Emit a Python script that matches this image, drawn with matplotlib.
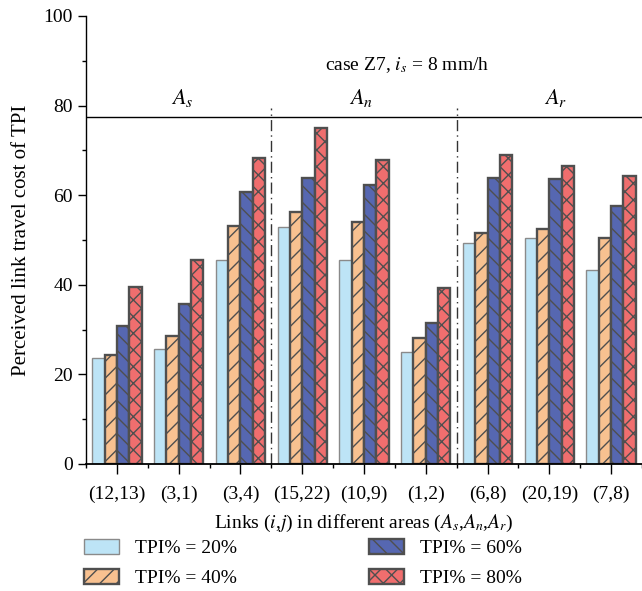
import matplotlib.pyplot as plt
import numpy as np
from matplotlib.ticker import MultipleLocator

# --- Data ---
links = ['(12,13)', '(3,1)', '(3,4)', '(15,22)', '(10,9)', '(1,2)', '(6,8)', '(20,19)', '(7,8)']
tpi_20 = [23.6, 25.6, 45.5, 52.9, 45.5, 25.0, 49.3, 50.5, 43.2]
tpi_40 = [24.3, 28.6, 53.1, 56.2, 54.0, 28.1, 51.6, 52.4, 50.4]
tpi_60 = [30.7, 35.6, 60.7, 63.8, 62.3, 31.5, 63.9, 63.6, 57.5]
tpi_80 = [39.4, 45.5, 68.3, 75.0, 67.9, 39.3, 69.0, 66.4, 64.3]
series_labels = ['TPI% = 20%', 'TPI% = 40%', 'TPI% = 60%', 'TPI% = 80%']
area_labels = [r'$A_s$', r'$A_n$', r'$A_r$']

plt.rcParams['font.family'] = 'Liberation Serif'
plt.rcParams['mathtext.fontset'] = 'stix'
plt.rcParams['hatch.color'] = '#4a4a4a'
plt.rcParams['hatch.linewidth'] = 1.0

fig = plt.figure(figsize=(6.42, 5.91), dpi=100)
ax = fig.add_axes([0.134, 0.215, 0.866, 0.758])

x = np.arange(len(links))
w = 0.2
styles = [
    dict(color='#bde4f6', edgecolor='#8a8a8a', hatch=None, lw=1.0),
    dict(color='#f8c190', edgecolor='#4f4f4f', hatch='//', lw=1.7),
    dict(color='#5667b1', edgecolor='#4f4f4f', hatch='\\\\', lw=1.7),
    dict(color='#f06e6e', edgecolor='#4f4f4f', hatch='xx', lw=1.7),
]
handles = []
for i, (vals, st) in enumerate(zip([tpi_20, tpi_40, tpi_60, tpi_80], styles)):
    b = ax.bar(x + (i - 1.5) * w, vals, w, facecolor=st['color'], edgecolor=st['edgecolor'],
               hatch=st['hatch'], linewidth=st['lw'], label=series_labels[i])
    handles.append(b)

ax.set_xlim(-0.5, 8.45)
ax.set_ylim(0, 100)
ax.set_xticks(x)
ax.set_xticklabels(links, fontsize=14)
ax.set_xticks(np.arange(-0.5, 9, 1), minor=True)
ax.yaxis.set_major_locator(MultipleLocator(20))
ax.yaxis.set_minor_locator(MultipleLocator(10))
ax.tick_params(axis='y', which='major', direction='out', length=6, width=1, labelsize=14)
ax.tick_params(axis='y', which='minor', direction='out', length=3, width=1)
ax.tick_params(axis='x', which='major', direction='out', length=7, width=1, pad=9)
ax.tick_params(axis='x', which='minor', direction='out', length=3, width=1)
for s in ['top', 'right']:
    ax.spines[s].set_visible(False)
ax.spines['bottom'].set_linewidth(1.3)
ax.spines['left'].set_linewidth(1.0)

# area separators
ax.axhline(77.5, color='black', lw=1.0)
for xv in [2.5, 5.5]:
    ax.plot([xv, xv], [0, 79.5], color='#333333', lw=1.0, linestyle=(0, (8, 3, 1, 3)))
for xv, lab in zip([1.05, 3.95, 7.1], area_labels):
    ax.text(xv, 79.3, lab, ha='center', va='bottom', fontsize=16)
ax.text(4.7, 89, r'case Z7, $i_s$ = 8 mm/h', ha='center', va='center', fontsize=14)

ax.set_ylabel('Perceived link travel cost of TPI', fontsize=15, labelpad=9)
ax.set_xlabel(r'Links ($i$,$j$) in different areas ($A_s$,$A_n$,$A_r$)', fontsize=14, labelpad=7)

fig.legend(handles=handles, loc='lower left', bbox_to_anchor=(0.11, -0.017), ncol=2,
           frameon=False, fontsize=14, handlelength=1.8, handleheight=0.85,
           columnspacing=6.8, labelspacing=0.6, handletextpad=0.8, borderpad=0.2)

plt.savefig('out.png', dpi=100)
plt.close()
